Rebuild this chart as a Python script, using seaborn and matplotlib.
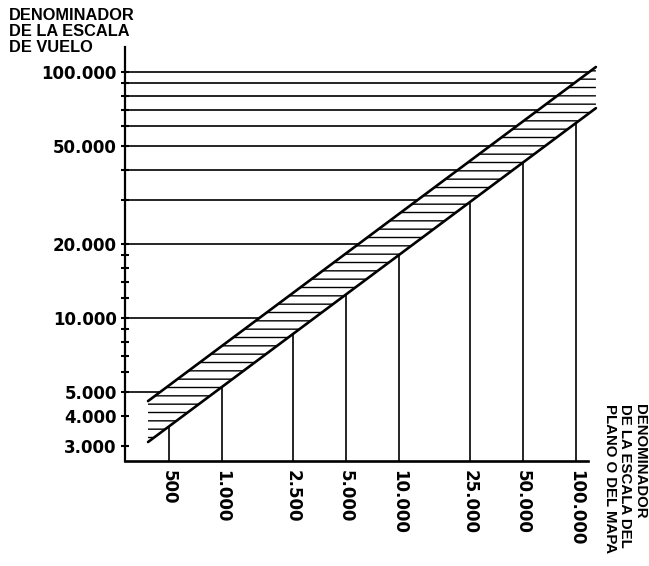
"""
Nomograma: denominador de la escala de vuelo vs. escala del plano/mapa.
Log-log chart with a hatched band and guide lines.
"""

import numpy as np
import matplotlib
matplotlib.use("Agg")
import matplotlib.pyplot as plt
from matplotlib.ticker import NullFormatter
import seaborn as sns

# --- data -------------------------------------------------------------
map_scale = [500, 1000, 2500, 5000, 10000, 25000, 50000, 100000]
map_labels = ["500", "1.000", "2.500", "5.000", "10.000", "25.000", "50.000", "100.000"]

flight_major = [3000, 4000, 5000, 10000, 20000, 50000, 100000]
flight_labels = ["3.000", "4.000", "5.000", "10.000", "20.000", "50.000", "100.000"]
flight_minor = [6000, 7000, 8000, 9000, 12000, 14000, 16000, 18000,
                30000, 40000, 60000, 70000, 80000, 90000]

# horizontal guide lines (flight scale) running to the upper band edge
guide_flight = [5000, 10000, 20000, 30000, 40000, 50000,
                60000, 70000, 80000, 90000, 100000]

# band edges (end points, log-log straight lines)
band_x = [380, 129000]
band_upper = [4585, 104500]
band_lower = [3125, 71100]

X_LIM = (281.6, 116400)
Y_LIM = (2624, 126000)

# --- figure -----------------------------------------------------------
sns.set_theme(style="white")
plt.rcParams["font.family"] = ["DejaVu Sans"]
plt.rcParams["text.color"] = "black"
plt.rcParams["hatch.linewidth"] = 1.0

fig = plt.figure(figsize=(6.49, 5.66), dpi=100)
ax = fig.add_axes([125 / 649, 1 - 460.7 / 566, (588 - 125) / 649, (460.7 - 47) / 566])
ax.set_xscale("log")
ax.set_yscale("log")
ax.set_xlim(*X_LIM)
ax.set_ylim(*Y_LIM)

# hatched band
ax.fill_between(band_x, band_lower, band_upper, facecolor="none", edgecolor="black",
                hatch="--", linewidth=0, clip_on=False, zorder=1)
sns.lineplot(x=band_x, y=band_upper, ax=ax, color="black", lw=1.9, clip_on=False, zorder=3)
sns.lineplot(x=band_x, y=band_lower, ax=ax, color="black", lw=1.9, clip_on=False, zorder=3)

# guide lines: horizontals end on upper edge, verticals end on lower edge
lx, lu, ll = np.log10(band_x), np.log10(band_upper), np.log10(band_lower)
h_end = 10 ** np.interp(np.log10(guide_flight), lu, lx)
ax.hlines(guide_flight, X_LIM[0], h_end, color="black", lw=1.2, clip_on=False, zorder=2)
v_end = 10 ** np.interp(np.log10(map_scale), lx, ll)
ax.vlines(map_scale, Y_LIM[0], v_end, color="black", lw=1.2, clip_on=False, zorder=2)

# spines and ticks
for side in ["top", "right"]:
    ax.spines[side].set_visible(False)
ax.spines["left"].set_linewidth(1.6)
ax.spines["bottom"].set_linewidth(1.9)
ax.spines["left"].set_color("black")
ax.spines["bottom"].set_color("black")

ax.set_yticks(flight_major, labels=flight_labels)
ax.set_yticks(flight_minor, minor=True)
ax.yaxis.set_minor_formatter(NullFormatter())
ax.set_xticks(map_scale, labels=map_labels)
ax.set_xticks([], minor=True)

ax.tick_params(axis="y", which="both", direction="inout", length=6, width=1.5,
               color="black", pad=3, left=True)
ax.tick_params(axis="x", which="both", length=0, pad=6.5, labelrotation=-90)
for lab in ax.get_yticklabels() + ax.get_xticklabels():
    lab.set_fontsize(12)
    lab.set_fontweight("bold")
    lab.set_color("black")
ax.grid(False)

# axis titles
title_font = dict(fontweight="bold", color="black",
                  family=["Liberation Sans", "DejaVu Sans"], linespacing=1.08)
fig.text(9 / 649, 1 - 8 / 566, "DENOMINADOR\nDE LA ESCALA\nDE VUELO",
         ha="left", va="top", fontsize=11.8, **title_font)
fig.text(647 / 649, 1 - 404 / 566, "DENOMINADOR\nDE LA ESCALA DEL\nPLANO O DEL MAPA",
         ha="right", va="top", rotation=-90, multialignment="left",
         fontsize=10.8, **title_font)

fig.savefig("out.png", dpi=100)
